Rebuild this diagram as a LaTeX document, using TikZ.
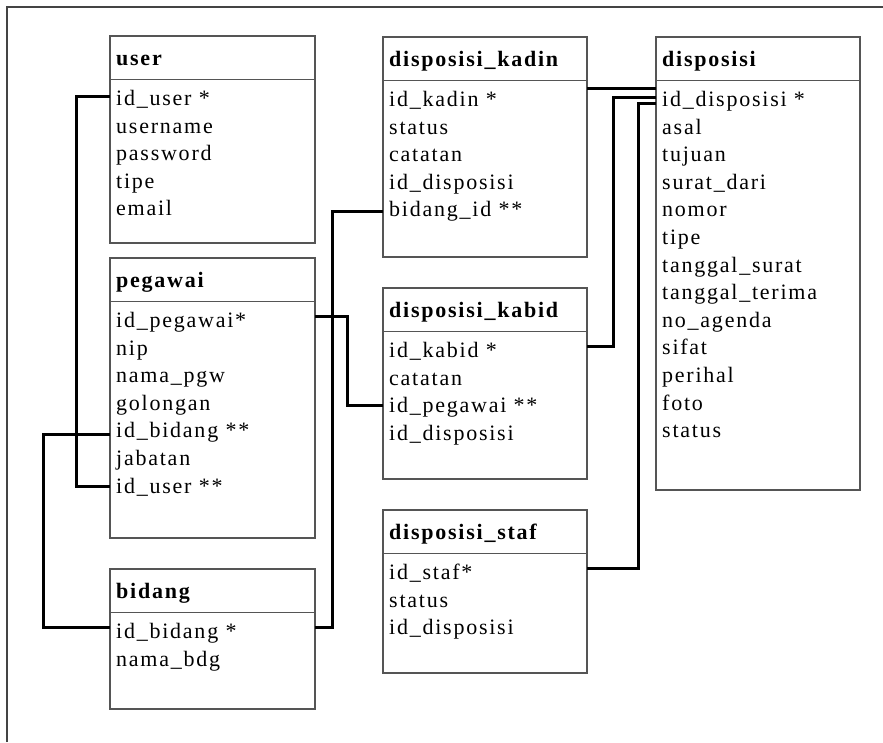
\documentclass[tikz,border=0pt]{standalone}
\usepackage{fontspec}
\setmainfont{Liberation Serif}[LetterSpace=8]
\usetikzlibrary{calc}
\definecolor{boxgray}{HTML}{555555}
\definecolor{framegray}{HTML}{444444}
\tikzset{
  tbl/.style={draw=boxgray, line width=1.5pt, fill=white, inner sep=0pt, outer sep=0pt, rectangle},
  hline/.style={draw=boxgray, line width=1.5pt},
  hdr/.style={anchor=base west, inner sep=0pt, font=\fontsize{22}{26}\selectfont\bfseries},
  fld/.style={anchor=base west, inner sep=0pt, font=\fontsize{22}{26}\selectfont},
  conn/.style={draw=black, line width=3pt},
  frm/.style={draw=framegray, line width=2pt}
}
\newcommand{\mktbl}[6]{% name, cx, cy, w, h, title
  \node[tbl, minimum width=#4pt, minimum height=#5pt] (#1) at (#2,#3) {};
  \draw[hline] ([yshift=-43.5pt]#1.north west) -- ([yshift=-43.5pt]#1.north east);
  \node[hdr] (#1-h) at ([xshift=6pt,yshift=-29pt]#1.north west) {#6};
}
\newcommand{\mkrows}[2]{% name, list
  \foreach \n [count=\i] in {#2}
    \node[fld] (#1-\i) at ([xshift=6pt,yshift={-69.5pt-(\i-1)*27.6pt}]#1.north west) {\n};
}
\begin{document}
\begin{tikzpicture}[x=1pt,y=-1pt]
\useasboundingbox (0,0) rectangle (883,742);
\fill[white] (0,0) rectangle (883,742);
\draw[frm] (7,742) -- (7,7) -- (883,7);

\mktbl{user}{212.5}{139.5}{205}{207}{user}
\mkrows{user}{id\_user *, username, password, tipe, email}

\mktbl{pegawai}{212.5}{398}{205}{280}{pegawai}
\mkrows{pegawai}{id\_pegawai*, nip, nama\_pgw, golongan, id\_bidang **, jabatan, id\_user **}

\mktbl{bidang}{212.5}{639}{205}{140}{bidang}
\mkrows{bidang}{id\_bidang *, nama\_bdg}

\mktbl{kadin}{485}{147}{204}{220}{disposisi\_kadin}
\mkrows{kadin}{id\_kadin *, status, catatan, id\_disposisi, bidang\_id **}

\mktbl{kabid}{485}{383.5}{204}{191}{disposisi\_kabid}
\mkrows{kabid}{id\_kabid *, catatan, id\_pegawai **, id\_disposisi}

\mktbl{staf}{485}{591.5}{204}{163}{disposisi\_staf}
\mkrows{staf}{id\_staf*, status, id\_disposisi}

\mktbl{disposisi}{758}{263.5}{204}{453}{disposisi}
\mkrows{disposisi}{id\_disposisi *, asal, tujuan, surat\_dari, nomor, tipe, tanggal\_surat, tanggal\_terima, no\_agenda, sifat, perihal, foto, status}

% connectors (row baselines lie 7pt below the row centres)
\draw[conn] ($(user.west |- user-1.base)+(0,-9)$) -- ++(-34,0) |- ($(pegawai.west |- pegawai-7.base)+(0,-7)$);
\draw[conn] ($(pegawai.west |- pegawai-5.base)+(0,-3)$) -- ++(-67,0) |- ($(bidang.west |- bidang-1.base)+(0,-11)$);
\draw[conn] ($(pegawai.east |- pegawai-1.base)+(0,-11)$) -- ++(32,0) |- ($(kabid.west |- kabid-3.base)+(0,-7)$);
\draw[conn] ($(bidang.east |- bidang-1.base)+(0,-11)$) -- ++(17,0) |- ($(kadin.west |- kadin-5.base)+(0,-5)$);
\draw[conn] ($(kadin.east |- kadin-1.base)+(0,-18)$) -- ($(disposisi.west |- kadin-1.base)+(0,-18)$);
\draw[conn] ($(kabid.east |- kabid-1.base)+(0,-11)$) -- ++(26,0) |- ($(disposisi.west |- disposisi-1.base)+(0,-9)$);
\draw[conn] ($(staf.east |- staf-1.base)+(0,-11)$) -- ++(51,0) |- ($(disposisi.west |- disposisi-1.base)+(0,-3)$);
\end{tikzpicture}
\end{document}
